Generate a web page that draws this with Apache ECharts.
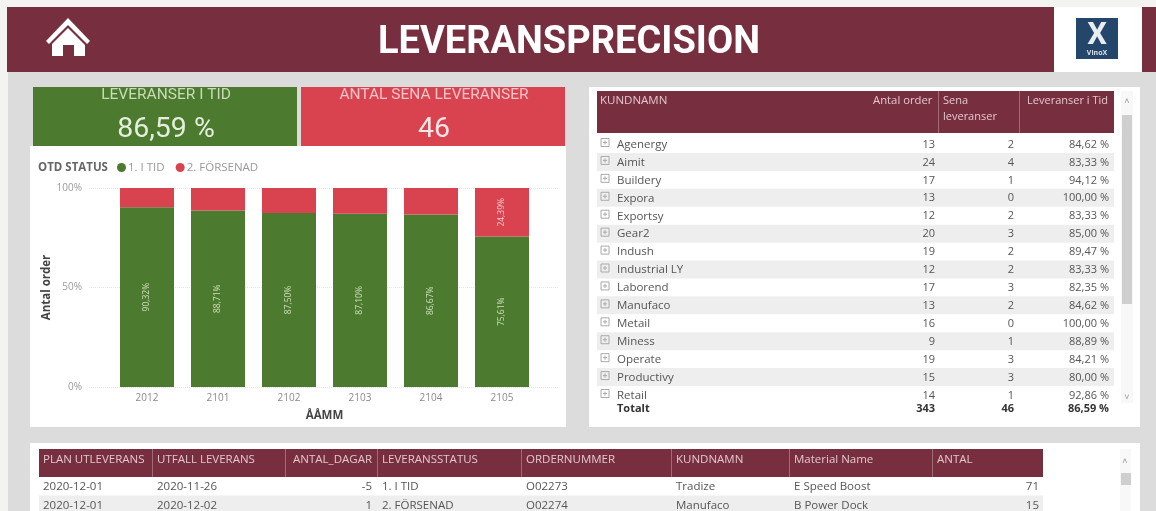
<!DOCTYPE html>
<html><head><meta charset="utf-8">
<script src="https://cdn.jsdelivr.net/npm/echarts@6/dist/echarts.min.js"></script>
<style>html,body{margin:0;padding:0;background:#f3f3f2}#c{width:1156px;height:511px;filter:blur(0.45px)}</style>
</head><body><div id="c"></div>
<script>
const categories=['2012','2101','2102','2103','2104','2105'];
const onTime=[90.32,88.71,87.50,87.10,86.67,75.61];
const late=[9.68,11.29,12.50,12.90,13.33,24.39];
const yTicks=[0,50,100];
const seriesNames=['1. I TID','2. FÖRSENAD'];
const kpiOnTime='86,59 %';
const kpiLate='46';
const customers=['Agenergy','Aimit','Buildery','Expora','Exportsy','Gear2','Indush','Industrial LY','Laborend','Manufaco','Metail','Miness','Operate','Productivy','Retail'];
const customerOrders=[13,24,17,13,12,20,19,12,17,13,16,9,19,15,14];
const customerLate=[2,4,1,0,2,3,2,2,3,2,0,1,3,3,1];
const customerOnTime=['84,62 %','83,33 %','94,12 %','100,00 %','83,33 %','85,00 %','89,47 %','83,33 %','82,35 %','84,62 %','100,00 %','88,89 %','84,21 %','80,00 %','92,86 %'];
const totals=['Totalt','343','46','86,59 %'];
const detailHeaders=['PLAN UTLEVERANS','UTFALL LEVERANS','ANTAL_DAGAR','LEVERANSSTATUS','ORDERNUMMER','KUNDNAMN','Material Name','ANTAL'];
const detailRows=[
 ['2020-12-01','2020-11-26','-5','1. I TID','O02273','Tradize','E Speed Boost','71'],
 ['2020-12-01','2020-12-02','1','2. FÖRSENAD','O02274','Manufaco','B Power Dock','15']
];
const MAROON='#772f3f',GREEN='#4c7a2e',RED='#d9434f',PANEL='#ffffff',GAP='#dcdcdc',INK='#555555',HEAD='#e2c6cc';
const FONT='"Open Sans",sans-serif';
const g=[];
const rect=(x,y,w,h,fill,z=-5)=>g.push({type:'rect',z,silent:true,shape:{x,y,width:w,height:h},style:{fill}});
const poly=(points,fill)=>g.push({type:'polygon',z:5,silent:true,shape:{points},style:{fill}});
const text=(x,y,t,o={})=>g.push({type:'text',z:o.z??5,silent:true,x,y,rotation:o.rotation||0,style:{text:t,fill:o.fill||INK,font:`${o.weight||400} ${o.size||11.5}px ${o.family||FONT}`,align:o.align||'left',verticalAlign:'middle'}});
// page blocks
rect(8,72,1148,439,GAP,-9);
rect(7,7,1047,65,MAROON,-8);
rect(1054,7,88,65,'#ffffff',-8);
rect(1142,7,14,65,MAROON,-8);
text(569,43,'LEVERANSPRECISION',{fill:'#ffffff',size:38,weight:700,family:'Roboto',align:'center'});
poly([[68,18],[46,41],[49,44],[68,25],[87,44],[90,41]],'#ffffff');
poly([[68,28],[52,44],[52,56],[63,56],[63,45],[74,45],[74,56],[85,56],[85,45]],'#ffffff');
rect(1076,18,42,41,'#24466b',-4);
text(1097,36,'X',{fill:'#e8edf2',size:31,weight:700,family:'Roboto',align:'center'});
text(1097,53,'VinoX',{fill:'#d8e0e8',size:7,weight:700,align:'center'});
// panels
rect(30,146,536,281,PANEL,-7);
rect(589,87,551,340,PANEL,-7);
rect(30,443,1110,68,PANEL,-7);
// KPI cards
rect(33,87,264,59,GREEN,-6);
rect(301,87,264,59,RED,-6);
text(166,95,'LEVERANSER I TID',{fill:'#c9dcb9',size:15.5,family:'Roboto',align:'center'});
text(166,130,kpiOnTime,{fill:'#e6efdd',size:28.5,family:'Roboto',align:'center'});
text(434,95,'ANTAL SENA LEVERANSER',{fill:'#f3c4c8',size:15.5,family:'Roboto',align:'center'});
text(434,130,kpiLate,{fill:'#fbe6e7',size:28.5,family:'Roboto',align:'center'});
text(38,167.5,'OTD STATUS',{fill:'#666666',size:11.5,weight:700});
// customer table
rect(597,91,517,42,MAROON,-6);
text(600,101,'KUNDNAMN',{fill:HEAD,size:11.5});
text(873,101,'Antal order',{fill:HEAD,size:11.3});
text(943,101,'Sena',{fill:HEAD,size:11});
text(943,117,'leveranser',{fill:HEAD,size:11});
text(1108,101,'Leveranser i Tid',{fill:HEAD,size:11,align:'right'});
rect(938,91,1,42,'#a06a76',-5);
rect(1019,91,1,42,'#a06a76',-5);
customers.forEach((name,i)=>{
  const y=144.5+i*17.93;
  if(i%2===1) rect(597,y-9.5,517,18,'#eeeeee',-5);
  g.push({type:'rect',z:4,silent:true,shape:{x:601,y:y-6,width:8,height:8},style:{fill:'none',stroke:'#aaaaaa',lineWidth:1}});
  g.push({type:'line',z:4,silent:true,shape:{x1:603,y1:y-2,x2:607,y2:y-2},style:{stroke:'#aaaaaa',lineWidth:1}});
  g.push({type:'line',z:4,silent:true,shape:{x1:605,y1:y-4,x2:605,y2:y},style:{stroke:'#aaaaaa',lineWidth:1}});
  text(617,y,name);
  text(935,y,String(customerOrders[i]),{align:'right',size:11});
  text(1014,y,String(customerLate[i]),{align:'right',size:11});
  text(1109,y,customerOnTime[i],{align:'right',size:11});
});
text(617,409,totals[0],{weight:700,fill:'#333333',size:11});
text(935,409,totals[1],{weight:700,fill:'#333333',align:'right',size:11});
text(1014,409,totals[2],{weight:700,fill:'#333333',align:'right',size:11});
text(1109,409,totals[3],{weight:700,fill:'#333333',align:'right',size:11});
// scrollbar of customer table
rect(1121,91,12,312,'#f8f8f8',-6);
rect(1122,115,10,189,'#cfcfcf',-5);
text(1127,101,'˄',{fill:'#999999',size:9,align:'center'});
text(1127,397,'˅',{fill:'#999999',size:9,align:'center'});
// detail table
const colX=[43,157,0,382,526,676,794,937];
const colSep=[152,285,377,521,671,789,932];
rect(39,449,1004,28,MAROON,-6);
colSep.forEach(x=>rect(x,449,1,28,'#a06a76',-5));
detailHeaders.forEach((h,i)=>{
  if(i===2) text(372,459.5,h,{fill:HEAD,size:11.5,align:'right'});
  else text(colX[i],459.5,h,{fill:HEAD,size:11.5});
});
detailRows.forEach((r,k)=>{
  const y=486.5+k*19.5;
  if(k===1) rect(39,495.5,1004,15.5,'#eeeeee',-5);
  r.forEach((v,i)=>{
    if(i===2) text(372,y,v,{align:'right'});
    else if(i===7) text(1039,y,v,{align:'right'});
    else text(colX[i],y,v);
  });
});
rect(1120,449,11,62,'#f8f8f8',-6);
rect(1121,473,10,12,'#cfcfcf',-5);
text(1125,461,'˄',{fill:'#999999',size:9,align:'center'});

const chart=echarts.init(document.getElementById('c'),null,{renderer:'canvas'});
const barLabel=show=>({show,position:'inside',rotate:90,color:'#cfe0bf',fontFamily:FONT,fontSize:8.5,
  formatter:p=>p.value.toFixed(2).replace('.',',')+'%'});
chart.setOption({
  animation:false,
  backgroundColor:'transparent',
  textStyle:{fontFamily:FONT},
  graphic:{elements:g},
  legend:{left:117,top:161.5,itemWidth:9,itemHeight:9,icon:'circle',itemGap:11,padding:0,
    textStyle:{color:'#999999',fontSize:11.5,fontFamily:FONT,padding:[0,0,0,-3]},data:seriesNames},
  grid:[
    {left:111.5,top:188,width:426,height:199},
    {left:89,top:188,width:470,height:199}
  ],
  xAxis:[
    {type:'category',gridIndex:0,data:categories,axisLine:{show:false},axisTick:{show:false},
     axisLabel:{color:'#8a8a8a',fontSize:10,margin:6},
     name:'ÅÅMM',nameLocation:'middle',nameGap:23,nameTextStyle:{color:'#444444',fontWeight:700,fontSize:11.5}},
    {type:'value',gridIndex:1,min:0,max:1,show:false}
  ],
  yAxis:[
    {type:'value',gridIndex:0,min:0,max:100,interval:50,show:false},
    {type:'value',gridIndex:1,min:0,max:100,interval:50,
     axisLabel:{color:'#9a9a9a',fontSize:10,margin:7,formatter:v=>yTicks.includes(v)?v+'%':''},
     axisLine:{show:false},axisTick:{show:false},
     splitLine:{lineStyle:{color:'#e6e6e6',type:'dotted'}},
     name:'Antal order',nameLocation:'middle',nameGap:36,nameRotate:90,
     nameTextStyle:{color:'#444444',fontWeight:700,fontSize:11.5}}
  ],
  series:[
    {name:seriesNames[0],type:'bar',xAxisIndex:0,yAxisIndex:0,stack:'a',barWidth:54,data:onTime,
     itemStyle:{color:GREEN},label:barLabel(true)},
    {name:seriesNames[1],type:'bar',xAxisIndex:0,yAxisIndex:0,stack:'a',barWidth:54,
     data:late.map((v,i)=>({value:v,label:{show:v>20,color:'#f6cdd0'}})),
     itemStyle:{color:RED},label:barLabel(false)}
  ]
});
</script></body></html>
